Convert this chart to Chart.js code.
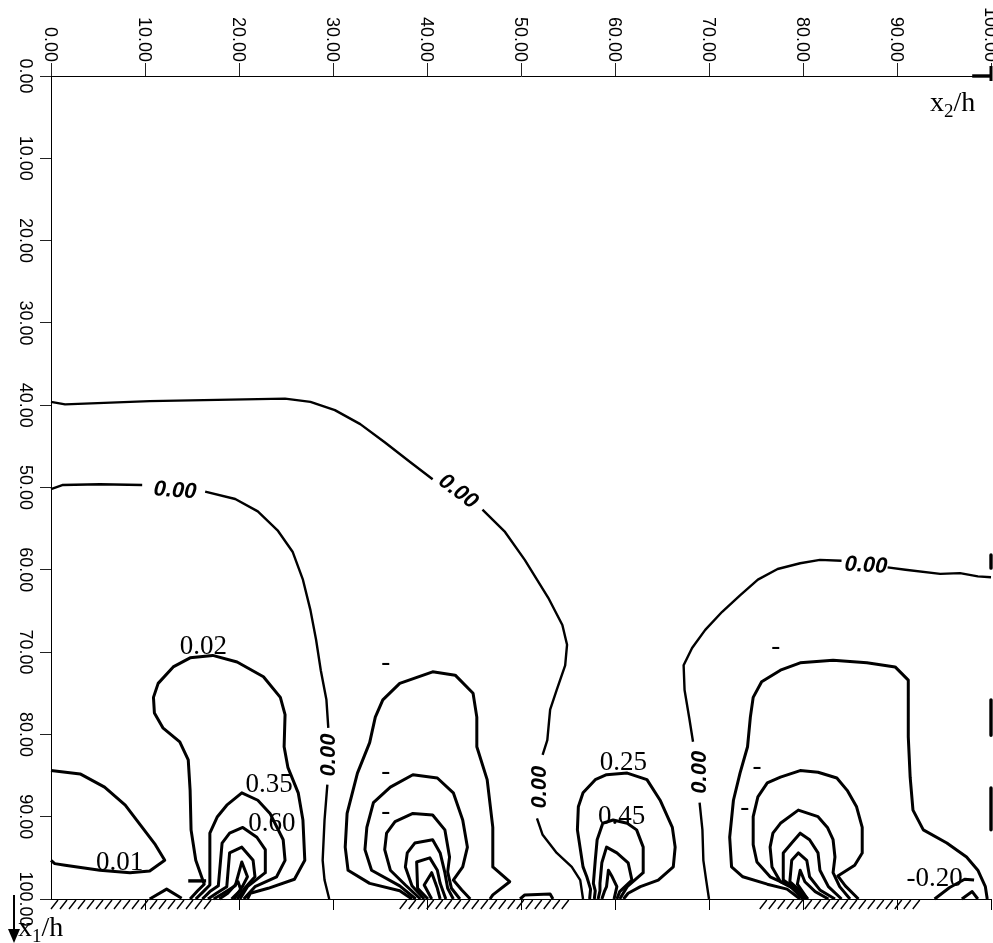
<!DOCTYPE html>
<html>
<head>
<meta charset="utf-8">
<script src="https://cdn.jsdelivr.net/npm/chart.js@4.4.1/dist/chart.umd.min.js"></script>
<style>
html,body{margin:0;padding:0;background:#fff;}
#wrap{position:relative;width:993px;height:943px;}
</style>
</head>
<body>
<div id="wrap"><canvas id="c"></canvas></div>
<script>
// axis ticks (x2/h across the top, x1/h down the left side)
const tickValues = [0,10,20,30,40,50,60,70,80,90,100];
const tickLabels = ["0.00","10.00","20.00","30.00","40.00","50.00","60.00","70.00","80.00","90.00","100.00"];

// zero-level contours, split where their labels sit: [x2, x1]
const zeroUpperA = [[0,39.6],[1.5,39.9],[10.5,39.5],[24.9,39.2],[27.6,39.6],[30.2,40.6],[32.9,42.3],[35.5,44.5],[38.2,46.9],[40.6,49.0]];
const zeroUpperB = [[45.9,52.7],[48.3,55.4],[50.4,58.8],[52.9,63.4],[54.4,66.7],[54.9,69.1],[54.7,71.6],[53.8,74.6],[53.1,77.0],[52.8,80.7],[52.3,82.5]];
const zeroUpperC = [[51.7,90.2],[52.3,92.2],[53.8,94.4],[55.4,96.1],[56.3,97.7],[56.6,100]];
const zeroLowerA = [[0,50.2],[1.2,49.7],[5.2,49.6],[9.7,49.7]];
const zeroLowerB = [[16.4,50.5],[19.6,51.4],[22.0,52.9],[24.1,55.2],[25.7,57.8],[26.8,61.2],[27.6,64.9],[28.2,68.5],[28.7,72.2],[29.3,75.8],[29.5,79.2]];
const zeroLowerC = [[29.4,86.1],[29.1,90.4],[28.9,95.3],[29.1,97.7],[29.6,100]];
const zeroRightA = [[100,60.9],[98.6,60.8],[96.7,60.4],[94.6,60.5],[90.9,60.0],[89.0,59.7]];
const zeroRightB = [[84.1,58.9],[81.8,58.8],[79.7,59.2],[77.3,59.9],[75.2,61.2],[73.3,63.1],[71.4,65.1],[69.6,67.3],[68.2,69.5],[67.3,71.6],[67.4,74.6],[67.9,78.0],[68.3,80.9]];
const zeroRightC = [[69.0,88.3],[69.3,91.6],[69.4,95.3],[69.7,97.7],[70.0,100]];

// contours near the wall at x1/h = 100
const cornerLoop = [[0,84.4],[3.1,84.8],[5.7,86.4],[7.9,88.6],[9.5,91.0],[11.1,93.4],[12.1,95.3],[10.5,96.6],[8.4,96.8],[5.2,96.5],[1.5,95.9],[0.4,95.7],[0,95.3]];
const cellA = [
  [[14.8,100],[15.6,99.0],[16.3,98.2],[15.4,95.3],[14.9,91.6],[14.8,86.8],[14.6,83.1],[13.7,80.9],[11.9,79.2],[11.0,77.4],[10.9,75.5],[11.4,73.8],[13.0,71.8],[14.8,70.7],[17.2,70.4],[19.8,71.2],[22.6,73.0],[24.4,75.5],[24.9,77.6],[24.8,81.5],[25.2,84.0],[26.3,87.1],[26.8,90.4],[27.0,95.3],[25.9,97.6],[23.1,98.7],[21.2,99.3],[20.9,100]],
  [[15.4,100],[16.2,99.1],[16.9,98.3],[16.9,92.0],[17.7,90.0],[18.7,88.6],[20.3,87.1],[22.0,88.0],[23.3,89.6],[24.7,92.8],[24.9,95.3],[24.0,97.3],[21.7,98.5],[20.5,100]],
  [[16.1,100],[16.9,99.1],[17.8,98.4],[18.2,93.2],[19.0,92.0],[20.4,91.3],[21.9,92.5],[22.8,94.0],[22.8,96.8],[20.9,98.5],[20.1,100]],
  [[16.7,100],[17.6,99.3],[18.7,98.5],[19.0,94.4],[20.3,93.7],[21.5,95.3],[21.7,97.3],[20.6,98.7],[19.8,100]],
  [[17.3,100],[18.2,99.4],[19.6,98.4],[20.3,95.5],[20.9,97.3],[20.4,98.4],[19.5,100]],
  [[17.9,100],[18.8,99.3],[19.9,97.9],[20.2,98.9],[19.2,100]]
];
const cellB = [
  [[38.4,100],[37.1,99.0],[33.9,98.1],[31.6,96.5],[31.3,93.7],[31.5,89.6],[32.6,84.7],[33.9,81.0],[34.5,77.9],[35.3,75.8],[37.1,73.8],[40.6,72.4],[43.0,72.8],[44.9,75.0],[45.3,77.9],[45.3,81.5],[46.4,85.5],[47.0,91.3],[47.0,96.1],[48.8,97.9],[47.0,99.5],[46.7,100]],
  [[38.8,100],[37.1,98.4],[34.1,96.5],[33.4,94.0],[33.6,91.3],[34.3,88.3],[36.1,86.4],[38.5,84.9],[41.1,85.3],[42.8,87.1],[43.8,90.4],[44.3,93.7],[43.8,96.1],[42.8,97.7],[43.7,98.9],[44.6,100]],
  [[39.3,100],[37.7,98.3],[36.1,96.5],[35.5,94.0],[35.7,92.0],[36.6,90.6],[38.5,89.6],[40.6,89.8],[41.9,91.6],[42.4,94.9],[42.2,96.7],[42.6,98.7],[43.5,100]],
  [[39.7,100],[38.4,98.4],[37.7,96.1],[37.9,94.4],[38.7,93.2],[40.6,92.8],[41.4,94.4],[41.9,96.8],[42.2,98.7],[42.8,100]],
  [[40.1,100],[39.0,98.7],[38.9,95.5],[40.3,95.0],[41.1,96.5],[41.4,98.1],[42.0,100]],
  [[40.5,100],[39.7,98.3],[40.5,96.8],[41.1,98.7],[41.4,100]]
];
const cellC = [
  [[57.3,100],[57.4,98.8],[57.0,97.3],[56.6,96.1],[56.0,91.6],[56.1,88.8],[56.6,87.1],[57.9,85.5],[59.1,84.9],[61.3,84.7],[63.4,85.5],[64.8,88.0],[66.1,91.3],[66.4,93.7],[66.2,96.1],[64.6,97.7],[62.7,98.5],[61.4,99.3],[60.9,100]],
  [[57.8,100],[57.9,99.0],[57.7,98.1],[57.9,95.3],[58.1,92.8],[58.7,90.8],[59.8,90.4],[61.3,90.8],[62.3,91.6],[63.0,93.7],[63.0,96.8],[61.3,98.5],[60.5,100]],
  [[58.2,100],[58.4,99.0],[58.4,98.1],[58.6,95.6],[59.1,93.7],[60.2,94.4],[61.4,95.6],[61.8,97.7],[60.5,99.1],[60.2,100]],
  [[58.6,100],[58.9,99.0],[59.1,98.5],[59.3,96.5],[59.7,97.3],[60.2,98.5],[59.9,100]]
];
const cellD = [
  [[79.7,100],[78.3,98.8],[76.2,98.2],[73.6,97.3],[72.4,96.1],[72.2,92.5],[72.6,88.0],[73.3,84.7],[74.1,81.5],[74.4,77.9],[74.7,75.5],[75.6,73.6],[77.6,72.2],[79.7,71.3],[83.2,71.0],[86.8,71.3],[89.8,71.8],[91.2,73.4],[91.2,80.3],[91.4,85.2],[91.7,89.2],[92.8,91.6],[95.3,93.2],[97.4,94.9],[98.6,96.5],[99.4,98.5],[99.6,100]],
  [[80.0,100],[78.6,98.4],[76.5,97.3],[75.1,95.5],[74.7,93.4],[74.7,90.0],[75.2,87.6],[76.2,85.9],[77.6,85.2],[79.7,84.4],[81.6,84.6],[83.6,85.3],[84.7,86.8],[85.7,88.8],[86.3,91.3],[86.3,94.4],[85.5,95.9],[83.7,97.2],[84.5,98.4],[85.9,100]],
  [[80.2,100],[79.1,98.8],[77.6,97.9],[76.7,96.1],[76.5,93.7],[76.8,92.0],[77.6,90.8],[79.5,89.2],[81.6,90.0],[82.6,91.3],[83.2,92.8],[83.4,94.9],[83.2,96.8],[83.9,98.5],[85.0,100]],
  [[80.4,100],[79.4,98.9],[77.9,97.7],[77.9,94.4],[78.8,93.2],[79.7,92.0],[80.7,92.8],[81.6,94.4],[81.8,96.5],[82.7,98.5],[84.1,100]],
  [[80.5,100],[79.7,99.0],[78.6,97.9],[78.8,95.3],[79.5,94.4],[80.4,95.3],[80.7,97.3],[81.8,98.9],[83.4,100]],
  [[80.5,100],[79.4,98.2],[79.7,96.5],[80.2,97.9],[81.3,99.1],[82.7,100]]
];
const negativeA = [[94.0,100],[95.6,98.6],[97.2,97.6],[98.2,97.7]];
const negativeB = [[96.9,100],[98.0,99.1],[98.6,100]];
const wallBumpA = [[10.5,100],[12.3,98.8],[13.9,99.9]];
const wallBumpB = [[49.9,100],[50.4,99.5],[53.1,99.4],[53.4,100]];
const shortDash = [[14.6,97.8],[16.5,97.8]];
const edgeTop = [[98.0,0],[100,0]];
const edgeRightA = [[100,58.2],[100,59.8]];
const edgeRightB = [[100,75.8],[100,80.1]];
const edgeRightC = [[100,86.5],[100,91.6]];

// level labels: [text, x2, x1]
const levelLabels = [["0.02",16.2,69.4],["0.35",23.2,86.1],["0.60",23.5,90.9],["0.01",7.3,95.6],["0.25",60.9,83.5],["0.45",60.7,90.0],["-0.20",94.0,97.6]];
const dashLabels = [[35.6,71.3],[35.6,84.6],[35.6,89.4],[77.1,69.4],[75.1,84.0],[73.8,88.9]];
// zero labels: [x2, x1, angle in degrees]
const zeroLabels = [[13.2,50.4,4],[43.3,50.5,37],[86.7,59.5,3],[29.6,82.5,-90],[52.0,86.4,-90],[69.0,84.6,-90]];
// hatched wall stretches along x2
const wallSpans = [[0,17.7],[37.1,55.4],[75.4,93.0]];

const thin = 2.4, thick = 3;
const lineSets = [
  [zeroUpperA,thin],[zeroUpperB,thin],[zeroUpperC,thin],
  [zeroLowerA,thin],[zeroLowerB,thin],[zeroLowerC,thin],
  [zeroRightA,thin],[zeroRightB,thin],[zeroRightC,thin],
  [cornerLoop,thick],
  ...cellA.map(c=>[c,thick]),...cellB.map(c=>[c,thick]),
  ...cellC.map(c=>[c,thick]),...cellD.map(c=>[c,thick]),
  [negativeA,thick],[negativeB,thick],[wallBumpA,thick],[wallBumpB,thick],
  [shortDash,3.4],[edgeTop,3.4],[edgeRightA,3.4],[edgeRightB,3.4],[edgeRightC,3.4]
];

const SERIF = '"Liberation Serif","Times New Roman",serif';
const SANS = '"Liberation Sans",Arial,sans-serif';

const decorations = {
  id: 'decorations',
  afterDraw(chart) {
    const {ctx, chartArea: a, scales: {x, y}} = chart;
    ctx.save();
    ctx.fillStyle = '#000';
    ctx.strokeStyle = '#000';

    // tick labels, turned a quarter clockwise
    ctx.font = '18px ' + SANS;
    tickValues.forEach((v, i) => {
      ctx.save();
      ctx.translate(x.getPixelForValue(v) - 1, a.top - 14);
      ctx.rotate(Math.PI / 2);
      ctx.textAlign = 'right'; ctx.textBaseline = 'middle';
      ctx.fillText(tickLabels[i], 0, 0);
      ctx.restore();
      ctx.save();
      ctx.translate(25, y.getPixelForValue(v));
      ctx.rotate(Math.PI / 2);
      ctx.textAlign = 'center'; ctx.textBaseline = 'middle';
      ctx.fillText(tickLabels[i], 0, 0);
      ctx.restore();
    });

    // heavy end tick at x2/h = 100
    ctx.lineWidth = 3;
    ctx.beginPath();
    ctx.moveTo(a.right, a.top - 10); ctx.lineTo(a.right, a.top + 5);
    ctx.stroke();

    // wall line with ticks and hatching
    ctx.lineWidth = 1;
    ctx.beginPath();
    ctx.moveTo(a.left, a.bottom + 0.5); ctx.lineTo(a.right, a.bottom + 0.5);
    tickValues.slice(1).forEach(v => {
      const px = Math.round(x.getPixelForValue(v)) + 0.5;
      ctx.moveTo(px, a.bottom); ctx.lineTo(px, a.bottom + 11);
    });
    ctx.stroke();
    ctx.lineWidth = 1.4;
    ctx.beginPath();
    wallSpans.forEach(([s, e]) => {
      const p0 = x.getPixelForValue(s), p1 = x.getPixelForValue(e);
      for (let px = p0; px <= p1 - 6; px += 9) {
        ctx.moveTo(px, a.bottom + 10); ctx.lineTo(px + 7, a.bottom + 1);
      }
    });
    ctx.stroke();

    // level values
    ctx.textAlign = 'center'; ctx.textBaseline = 'middle';
    ctx.font = '27px ' + SERIF;
    levelLabels.forEach(([t, u, v]) => ctx.fillText(t, x.getPixelForValue(u), y.getPixelForValue(v)));
    dashLabels.forEach(([u, v]) => ctx.fillText('-', x.getPixelForValue(u), y.getPixelForValue(v)));
    ctx.font = 'italic bold 22px ' + SANS;
    zeroLabels.forEach(([u, v, deg]) => {
      ctx.save();
      ctx.translate(x.getPixelForValue(u), y.getPixelForValue(v));
      ctx.rotate(deg * Math.PI / 180);
      ctx.fillText('0.00', 0, 0);
      ctx.restore();
    });

    // axis titles with subscripts
    const title = (left, base, sub) => {
      ctx.textAlign = 'left'; ctx.textBaseline = 'alphabetic';
      ctx.font = '28px ' + SERIF;
      ctx.fillText('x', left, base);
      let w = ctx.measureText('x').width;
      ctx.font = '19px ' + SERIF;
      ctx.fillText(sub, left + w, base + 6);
      w += ctx.measureText(sub).width;
      ctx.font = '28px ' + SERIF;
      ctx.fillText('/h', left + w, base);
    };
    title(930, 111, '2');
    title(18, 936, '1');

    // downward arrow for x1/h
    ctx.lineWidth = 2;
    ctx.beginPath();
    ctx.moveTo(14, a.bottom - 4); ctx.lineTo(14, 932);
    ctx.stroke();
    ctx.beginPath();
    ctx.moveTo(8, 929); ctx.lineTo(20, 929); ctx.lineTo(14, 943); ctx.closePath();
    ctx.fill();
    ctx.restore();
  }
};

new Chart(document.getElementById('c'), {
  type: 'scatter',
  data: {
    datasets: lineSets.map(([pts, w]) => ({
      data: pts.map(p => ({x: p[0], y: p[1]})),
      showLine: true, borderColor: '#000', borderWidth: w,
      pointRadius: 0, pointHoverRadius: 0, tension: 0, fill: false,
      clip: false, borderJoinStyle: 'round', borderCapStyle: 'butt'
    }))
  },
  options: {
    responsive: true, maintainAspectRatio: false, animation: false,
    devicePixelRatio: 1,
    layout: {padding: {left: 0, top: 0, right: 2, bottom: 44}},
    plugins: {legend: {display: false}, tooltip: {enabled: false}},
    events: [],
    scales: {
      x: {
        type: 'linear', position: 'top', min: 0, max: 100,
        ticks: {stepSize: 10, display: false},
        grid: {drawOnChartArea: false, drawTicks: true, tickLength: 13, color: '#222', lineWidth: 1},
        border: {display: true, color: '#000', width: 1},
        afterFit(s) { s.height = 76; }
      },
      y: {
        type: 'linear', position: 'left', reverse: true, min: 0, max: 100,
        ticks: {stepSize: 10, display: false},
        grid: {drawOnChartArea: false, drawTicks: true, tickLength: 11, color: '#222', lineWidth: 1},
        border: {display: true, color: '#000', width: 1},
        afterFit(s) { s.width = 51; }
      }
    }
  },
  plugins: [decorations]
});
</script>
</body>
</html>
